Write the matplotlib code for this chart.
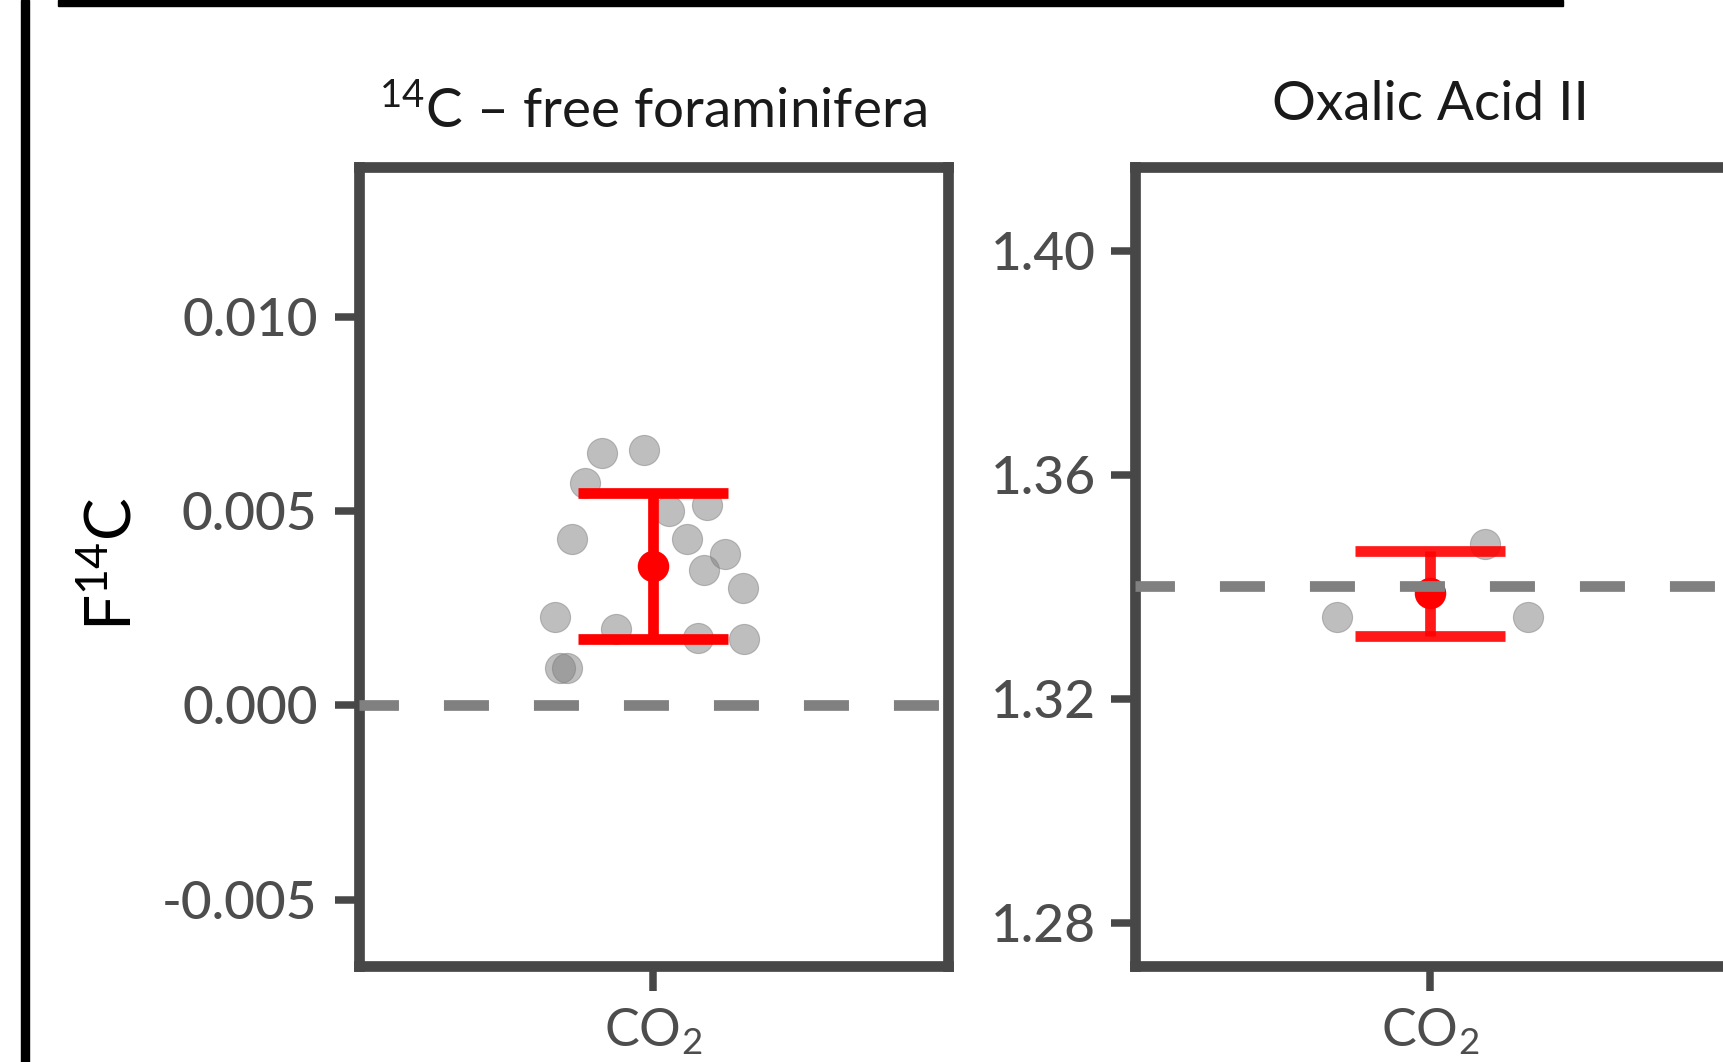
import matplotlib
matplotlib.use("Agg")
import matplotlib.pyplot as plt
from matplotlib.patches import Rectangle

plt.rcParams['font.family'] = ['Lato', 'DejaVu Sans']
plt.rcParams['mathtext.fontset'] = 'custom'
plt.rcParams['mathtext.rm'] = 'Lato'
plt.rcParams['mathtext.it'] = 'Lato:italic'
plt.rcParams['mathtext.bf'] = 'Lato:bold'
plt.rcParams['mathtext.default'] = 'regular'
plt.rcParams['lines.scale_dashes'] = False

# ---------------- data ----------------
titles = [r'$^{14}$C – free foraminifera', 'Oxalic Acid II']
category = ['CO$_2$']

foram_values = [0.00650, 0.00657, 0.00571, 0.00500, 0.00515, 0.00428, 0.00429, 0.00390,
                0.00348, 0.00303, 0.00228, 0.00196, 0.00174, 0.00171, 0.00097, 0.00097]
foram_jitter = [-0.105, -0.020, -0.139, 0.031, 0.109, -0.166, 0.069, 0.145,
                0.103, 0.183, -0.201, -0.077, 0.090, 0.184, -0.190, -0.176]
foram_mean = 0.003592
foram_err = 0.001874
foram_ref = 0.0
foram_ylim = (-0.006709, 0.013852)
foram_ticks = [-0.005, 0.000, 0.005, 0.010]
foram_ticklabels = ['-0.005', '0.000', '0.005', '0.010']

oxa_values = [1.33454, 1.34757, 1.33454]
oxa_jitter = [-0.189, 0.112, 0.199]
oxa_mean = 1.33882
oxa_err = 0.00759
oxa_ref = 1.3401
oxa_ylim = (1.272268, 1.414946)
oxa_ticks = [1.28, 1.32, 1.36, 1.40]
oxa_ticklabels = ['1.28', '1.32', '1.36', '1.40']

ylabel = r'F$^{14}$C'

# ---------------- layout ----------------
W, H = 1724, 1062
DPI = 100
PX = 72.0 / DPI  # points per pixel
fig = plt.figure(figsize=(W / DPI, H / DPI), dpi=DPI)
fig.patch.set_facecolor('white')

def fx(px):
    return px / W

def fy(py):
    return 1 - py / H

y_top, y_bot = 167, 966
ax_boxes = [(358.7, 948.0), (1135.3, 1725.0)]

SPINE = '#474747'
TICKLAB = '#4d4d4d'
POINT = '#7f7f7f'
RED = '#ff0000'

panels = [
    dict(values=foram_values, jitter=foram_jitter, mean=foram_mean, err=foram_err,
         ref=foram_ref, ylim=foram_ylim, ticks=foram_ticks, ticklabels=foram_ticklabels,
         bar_alpha=1.0, title_base=128, pad=12.0),
    dict(values=oxa_values, jitter=oxa_jitter, mean=oxa_mean, err=oxa_err,
         ref=oxa_ref, ylim=oxa_ylim, ticks=oxa_ticks, ticklabels=oxa_ticklabels,
         bar_alpha=0.9, title_base=119.5, pad=11.0),
]

for (x0, x1), p, title in zip(ax_boxes, panels, titles):
    ax = fig.add_axes([fx(x0), fy(y_bot), (x1 - x0) / W, (y_bot - y_top) / H])
    ax.set_facecolor('white')
    ax.scatter(p['jitter'], p['values'], s=470, color=POINT, alpha=0.5,
               edgecolors=POINT, linewidths=0.8, zorder=2)
    ax.errorbar([0], [p['mean']], yerr=[p['err']], fmt='none', ecolor=RED,
                elinewidth=10.7 * PX, capsize=75 * PX, capthick=10.7 * PX,
                alpha=p['bar_alpha'], zorder=3)
    ax.plot([0], [p['mean']], 'o', color=RED, markersize=31.5 * PX,
            markeredgewidth=0, zorder=4)
    ax.axhline(p['ref'], color='#808080', linewidth=10.7 * PX,
               linestyle=(4.0, (45 * PX, 45 * PX)), zorder=5)

    ax.set_xlim(-0.6, 0.6)
    ax.set_ylim(*p['ylim'])
    ax.set_xticks([0])
    ax.set_xticklabels(category)
    ax.set_yticks(p['ticks'])
    ax.set_yticklabels(p['ticklabels'], fontweight='medium')
    for s in ax.spines.values():
        s.set_linewidth(10.7 * PX)
        s.set_color(SPINE)
    ax.tick_params(axis='both', length=24.5 * PX, width=7.5 * PX, color=SPINE,
                   labelcolor=TICKLAB)
    ax.tick_params(axis='y', pad=p['pad'], labelsize=38.3)
    ax.tick_params(axis='x', pad=12, labelsize=37.5)
    ax.text(0.5, (y_bot - p['title_base']) / (y_bot - y_top), title,
            transform=ax.transAxes, ha='center', va='baseline',
            fontsize=39.5, color='#1a1a1a')

fig.text(fx(131.7), fy(564), ylabel, rotation=90, rotation_mode='anchor',
         ha='center', va='baseline', fontsize=46, color='black')

# outer figure frame fragments
fig.add_artist(Rectangle((fx(20.7), 0), 8 / W, 1, transform=fig.transFigure,
                         color='black', zorder=10))
fig.add_artist(Rectangle((fx(58.3), fy(6)), (1563.3 - 58.3) / W, 6 / H,
                         transform=fig.transFigure, color='black', zorder=10))

fig.savefig('out.png', dpi=DPI, facecolor='white')
